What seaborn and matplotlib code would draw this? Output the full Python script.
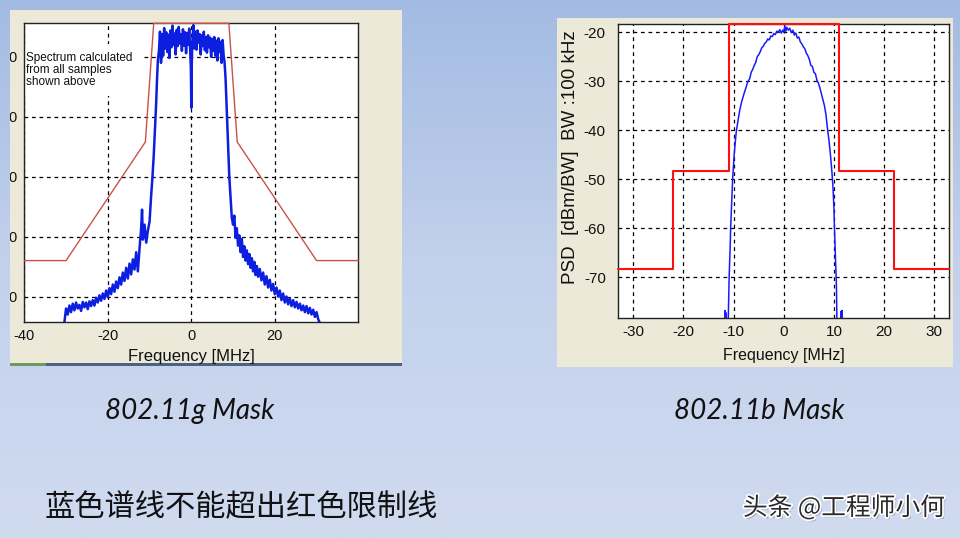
import matplotlib
matplotlib.use("Agg")
import matplotlib.pyplot as plt
import matplotlib.patheffects as pe
from matplotlib.colors import LinearSegmentedColormap
from matplotlib.patches import Rectangle
from matplotlib.transforms import Bbox, TransformedBbox
import numpy as np
import seaborn as sns

W, H = 960, 538

# ---- 802.11g screenshot (left) ----
g_freq = [-30.4, -30.0, -29.6, -29.2, -28.8, -28.4, -28.0, -27.6, -27.2, -26.8,
          -26.4, -26.0, -25.6, -25.2, -24.8, -24.4, -24.0, -23.6, -23.2, -22.8,
          -22.4, -22.0, -21.6, -21.2, -20.8, -20.4, -20.0, -19.6, -19.2, -18.8,
          -18.4, -18.0, -17.6, -17.2, -16.8, -16.4, -16.0, -15.6, -15.2, -14.8,
          -14.4, -14.0, -13.6, -13.2, -12.8, -12.4, -12.0, -11.8, -11.6, -11.2,
          -10.8, -10.4, -10.0, -9.6, -9.3, -9.0, -8.7, -8.4, -8.2, -8.0,
          -7.75, -7.5, -7.25, -7.0, -6.75, -6.5, -6.25, -6.0, -5.75, -5.5,
          -5.25, -5.0, -4.75, -4.5, -4.25, -4.0, -3.75, -3.5, -3.25, -3.0,
          -2.75, -2.5, -2.25, -2.0, -1.75, -1.5, -1.25, -1.0, -0.75, -0.5,
          -0.25, -0.1, 0.0, 0.1, 0.25, 0.5, 0.75, 1.0, 1.25, 1.5,
          1.75, 2.0, 2.25, 2.5, 2.75, 3.0, 3.25, 3.5, 3.75, 4.0,
          4.25, 4.5, 4.75, 5.0, 5.25, 5.5, 5.75, 6.0, 6.25, 6.5,
          6.75, 7.0, 7.25, 7.5, 7.75, 7.95, 8.2, 8.5, 8.8, 9.1,
          9.4, 9.7, 10.0, 10.3, 10.6, 10.9, 11.2, 11.5, 11.8, 12.1,
          12.4, 12.7, 13.0, 13.3, 13.6, 13.9, 14.2, 14.5, 14.8, 15.1,
          15.4, 15.7, 16.0, 16.4, 16.8, 17.2, 17.6, 18.0, 18.4, 18.8,
          19.2, 19.6, 20.0, 20.4, 20.8, 21.2, 21.6, 22.0, 22.4, 22.8,
          23.2, 23.6, 24.0, 24.4, 24.8, 25.2, 25.6, 26.0, 26.4, 26.8,
          27.2, 27.6, 28.0, 28.4, 28.8, 29.2, 29.6, 30.0, 30.4, 30.8]
g_psd = [-54.3, -52.0, -53.0, -51.5, -52.6, -51.2, -52.3, -51.0, -52.0, -51.4,
         -52.4, -50.9, -51.8, -51.0, -52.1, -50.8, -51.6, -50.6, -51.5, -50.2,
         -51.0, -49.8, -50.7, -49.5, -50.4, -49.0, -50.1, -48.6, -49.6, -48.0,
         -49.2, -47.5, -48.6, -46.8, -48.0, -46.0, -47.4, -45.2, -47.0, -44.5,
         -46.3, -43.8, -45.5, -42.6, -45.8, -42.0, -38.5, -35.5, -40.5, -38.0,
         -41.0, -39.0, -37.5, -33.0, -30.0, -26.5, -22.0, -17.5, -13.5, -10.5,
         -9.0, -5.8, -11.0, -6.2, -9.8, -5.2, -8.6, -5.9, -9.2, -6.3,
         -10.2, -5.6, -8.4, -4.8, -8.0, -6.1, -9.6, -5.5, -8.2, -5.0,
         -7.8, -6.2, -9.0, -5.4, -8.1, -5.9, -9.4, -6.0, -8.0, -5.3,
         -9.2, -12.0, -18.5, -11.5, -7.4, -4.7, -8.6, -5.8, -8.8, -5.6,
         -7.6, -6.2, -9.6, -6.4, -8.2, -5.8, -8.9, -6.7, -9.3, -6.4,
         -8.4, -6.8, -10.0, -7.0, -9.0, -6.7, -9.8, -7.3, -10.6, -6.9,
         -9.2, -7.5, -11.0, -7.2, -9.8, -10.8, -13.5, -19.0, -24.5, -30.0,
         -33.5, -36.8, -38.0, -36.5, -40.2, -38.6, -41.5, -39.8, -42.6, -40.4,
         -43.4, -41.6, -44.0, -42.3, -44.6, -42.9, -45.2, -43.6, -45.8, -44.2,
         -46.4, -44.9, -46.7, -45.4, -47.3, -46.0, -48.0, -46.6, -48.5, -47.2,
         -49.0, -47.9, -49.6, -48.5, -50.0, -49.0, -50.6, -49.5, -51.0, -50.0,
         -51.3, -50.3, -51.6, -50.6, -51.8, -50.9, -52.0, -51.2, -52.3, -51.5,
         -52.6, -51.6, -52.8, -51.9, -53.0, -52.2, -53.4, -52.6, -53.8, -54.4]
g_mask_freq = [-40, -30, -11, -9, 9, 11, 30, 40]
g_mask_db = [-44, -44, -24.2, -4.4, -4.4, -24.2, -44, -44]
g_xticks = [-40, -20, 0, 20]
g_yticks = [-10, -20, -30, -40, -50]

# ---- 802.11b screenshot (right) ----
b_freq = [-11.8, -11.7, -11.6, -11.5, -11.4, -11.1, -10.9, -10.7, -10.6, -10.4,
          -10.2, -9.9, -9.5, -9.2, -8.8, -8.4, -8.0, -7.6, -7.2, -6.8,
          -6.5, -6.2, -5.9, -5.6, -5.3, -5.0, -4.7, -4.4, -4.1, -3.8,
          -3.5, -3.2, -2.9, -2.6, -2.3, -2.0, -1.7, -1.4, -1.1, -0.8,
          -0.5, -0.2, 0.0, 0.2, 0.4, 0.6, 0.9, 1.2, 1.5, 1.8,
          2.1, 2.4, 2.7, 3.0, 3.3, 3.6, 3.9, 4.2, 4.5, 4.8,
          5.1, 5.4, 5.7, 6.0, 6.3, 6.6, 6.9, 7.2, 7.5, 7.8,
          8.1, 8.4, 8.7, 9.0, 9.3, 9.6, 9.8, 10.0, 10.1, 10.3,
          10.5, 10.6, 11.3, 11.4, 11.5, 11.6, 11.7]
b_psd = [-80, -76.8, -78.0, -77.3, -80, -80, -70, -64, -60, -55,
         -50, -45, -40.5, -38.5, -36, -34.2, -32.8, -31.5, -30.2, -29.5,
         -28.2, -27.6, -26.8, -26.2, -25.0, -24.6, -24.0, -23.2, -22.9, -22.3,
         -22.0, -21.4, -21.6, -20.8, -20.9, -20.3, -20.5, -19.8, -20.0, -19.5,
         -20.2, -19.6, -20.0, -18.7, -19.8, -19.0, -19.6, -19.2, -20.1, -19.6,
         -20.6, -20.2, -21.2, -21.0, -22.0, -22.4, -23.0, -23.4, -24.3, -24.8,
         -25.6, -26.8, -27.0, -28.2, -28.5, -29.8, -30.4, -31.4, -32.6, -33.8,
         -35.0, -36.8, -39.6, -42.0, -45.0, -48.6, -51.5, -56.0, -60.0, -66.0,
         -72.0, -80, -80, -77.0, -79.0, -76.8, -80]
b_mask_freq = [-33, -22, -22, -11, -11, 11, 11, 22, 22, 33]
b_mask_db = [-68.3, -68.3, -48.3, -48.3, -18.4, -18.4, -48.3, -48.3, -68.3, -68.3]
b_xticks = [-30, -20, -10, 0, 10, 20, 30]
b_yticks = [-20, -30, -40, -50, -60, -70]

captions = ["802.11g Mask", "802.11b Mask"]
note = "蓝色谱线不能超出红色限制线"
credit = "头条 @工程师小何"


def box(x0, y0, x1, y1):
    # pixel rectangle -> figure fraction
    return [x0 / W, 1 - y1 / H, (x1 - x0) / W, (y1 - y0) / H]


sns.set_theme(style="white")
plt.rcParams["font.family"] = ["Liberation Sans", "DejaVu Sans"]

fig = plt.figure(figsize=(9.6, 5.38), dpi=100)

# slide background gradient
bg = fig.add_axes([0, 0, 1, 1], zorder=-10)
grad = np.linspace(0, 1, 256).reshape(-1, 1)
cmap = LinearSegmentedColormap.from_list("slide", ["#a3bbe3", "#c3d1ec", "#d0dbf0"])
bg.imshow(grad, aspect="auto", cmap=cmap, extent=[0, 1, 0, 1])
bg.axis("off")

# screenshot panels
for (x0, y0, x1, y1) in [(10, 10, 402, 365), (557, 18, 953, 367)]:
    fig.patches.append(Rectangle((x0 / W, 1 - y1 / H), (x1 - x0) / W, (y1 - y0) / H,
                                 transform=fig.transFigure, facecolor="#ece9d8",
                                 edgecolor="none", zorder=-5))
fig.patches.append(Rectangle((10 / W, 1 - 366 / H), 392 / W, 3 / H, transform=fig.transFigure,
                             facecolor="#4b6382", edgecolor="none", zorder=-4))
fig.patches.append(Rectangle((10 / W, 1 - 366 / H), 36 / W, 3 / H, transform=fig.transFigure,
                             facecolor="#6f9a5e", edgecolor="none", zorder=-3))


def style_axes(ax):
    ax.set_facecolor("white")
    ax.grid(True, color="black", linestyle=(0, (3, 3)), linewidth=0.9)
    for s in ax.spines.values():
        s.set_color("#222222")
        s.set_linewidth(1.0)
    ax.tick_params(direction="in", length=3, color="#222222", labelcolor="#111111")


# ---- left: 802.11g ----
ax_g = fig.add_axes(box(24.3, 23.3, 358.3, 322.3))
sns.lineplot(x=g_freq, y=g_psd, sort=False, estimator=None, color="#0c1ee0",
             linewidth=1.8, ax=ax_g)
sns.lineplot(x=g_mask_freq, y=g_mask_db, sort=False, estimator=None, color="#c9514b",
             linewidth=1.0, ax=ax_g)
ax_g.lines[-1].set_zorder(3)
ax_g.lines[-1].set_clip_on(False)
style_axes(ax_g)
ax_g.set_xlim(-40, 40)
ax_g.set_ylim(-54.3, -4.4)
ax_g.set_xticks(g_xticks)
ax_g.set_xticklabels([str(v) for v in g_xticks], fontsize=10.5)
ax_g.set_yticks(g_yticks)
ax_g.set_yticklabels([str(v) for v in g_yticks], fontsize=10.5)
ax_g.tick_params(axis="x", pad=5)
ax_g.tick_params(axis="y", pad=5)
ax_g.set_xlabel("Frequency [MHz]", fontsize=12, labelpad=4.5, color="#111111")
ax_g.set_ylabel("")
ax_g.text(-39.5, -9.2, "Spectrum calculated\nfrom all samples\nshown above",
          fontsize=8.5, va="top", ha="left", linespacing=1.0, color="#111111",
          bbox=dict(facecolor="white", edgecolor="none", pad=6), zorder=2.2,
          clip_on=True)

# the screenshot cuts the y labels at the panel edge
clip = TransformedBbox(Bbox.from_extents(10 / W, 0, 402 / W, 1), fig.transFigure)
for t in ax_g.yaxis.get_major_ticks():
    t.label1.set_clip_on(True)
    t.label1.set_clip_box(clip)

# ---- right: 802.11b ----
ax_b = fig.add_axes(box(618.3, 24.3, 949.3, 318.3))
sns.lineplot(x=b_freq, y=b_psd, sort=False, estimator=None, color="#1a1aff",
             linewidth=1.1, ax=ax_b)
sns.lineplot(x=b_mask_freq, y=b_mask_db, sort=False, estimator=None, color="#ff1010",
             linewidth=1.5, ax=ax_b)
ax_b.lines[-1].set_zorder(3)
ax_b.lines[-1].set_clip_on(False)
style_axes(ax_b)
ax_b.set_xlim(-33, 33)
ax_b.set_ylim(-78.4, -18.4)
ax_b.set_xticks(b_xticks)
ax_b.set_xticklabels([str(v) for v in b_xticks], fontsize=11)
ax_b.set_yticks(b_yticks)
ax_b.set_yticklabels([str(v) for v in b_yticks], fontsize=11)
ax_b.tick_params(axis="x", pad=5)
ax_b.tick_params(axis="y", pad=9)
ax_b.set_xlabel("Frequency [MHz]", fontsize=11.5, labelpad=6, color="#111111")
ax_b.set_ylabel("PSD  [dBm/BW]  BW :100 kHz", fontsize=13.5, color="#111111")
ax_b.yaxis.set_label_coords(-0.118, 0.547)

# ---- slide text ----
fig.text(190 / W, 1 - 411 / H, captions[0], ha="center", va="center", fontsize=20,
         style="italic", family=["Lato", "DejaVu Sans"], color="#111111")
fig.text(759 / W, 1 - 411 / H, captions[1], ha="center", va="center", fontsize=20,
         style="italic", family=["Lato", "DejaVu Sans"], color="#111111")
fig.text(45 / W, 1 - 508 / H, note, ha="left", va="center", fontsize=21.8,
         family=["Noto Sans CJK SC", "DejaVu Sans"], fontweight="light", color="#111111")
fig.text(945 / W, 1 - 508 / H, credit, ha="right", va="center", fontsize=17.8,
         family=["Noto Sans CJK SC", "DejaVu Sans"], color="#2a2a2a",
         path_effects=[pe.withSimplePatchShadow(offset=(1.5, -1.5), shadow_rgbFace="#8090a8", alpha=0.7),
                       pe.withStroke(linewidth=2.5, foreground="white")])

fig.savefig("out.png", dpi=100)
